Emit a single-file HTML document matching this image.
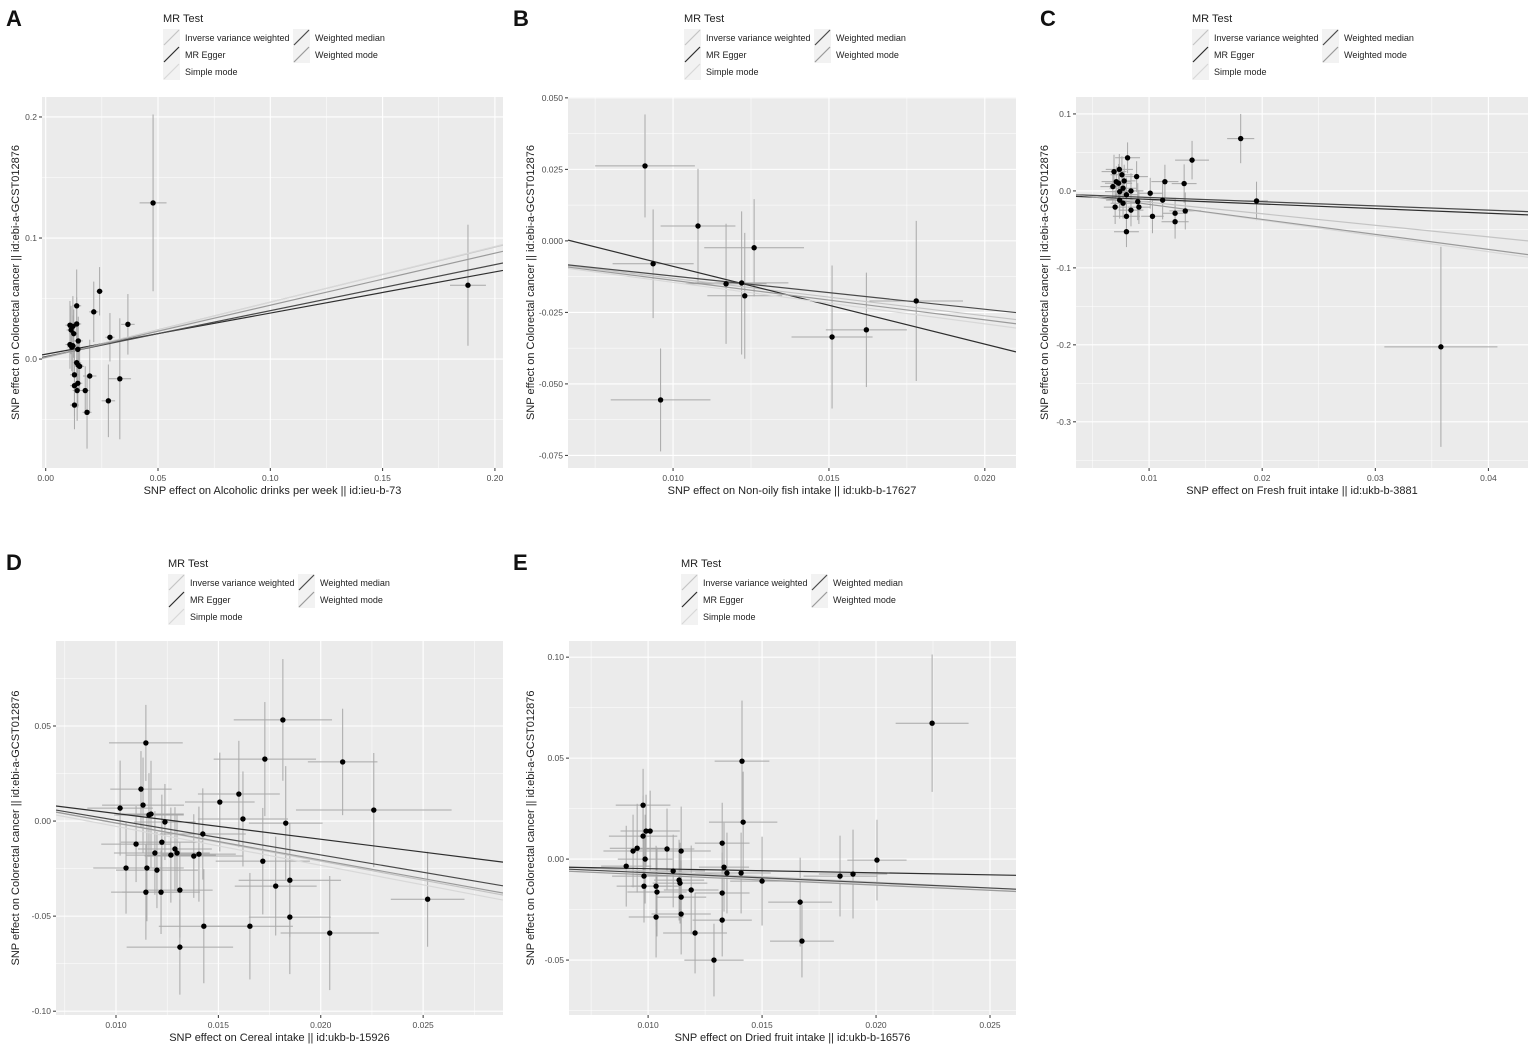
<!DOCTYPE html>
<html><head><meta charset="utf-8">
<style>
body{margin:0;background:#fff;font-family:"Liberation Sans",Arial,sans-serif;}
svg{display:block}
</style></head>
<body>
<svg id="fig" width="1535" height="1046" viewBox="0 0 1535 1046" xmlns="http://www.w3.org/2000/svg"></svg>
<script>
// ---------- shared ----------
const lineNames = ["Inverse variance weighted","MR Egger","Simple mode","Weighted median","Weighted mode"];
const lineColors = ["#c4c4c4","#2e2e2e","#d8d8d8","#4a4a4a","#9a9a9a"];
const yTitle = "SNP effect on Colorectal cancer || id:ebi-a-GCST012876";

// ---------- Panel A ----------
const aX  = [0.0138,0.024,0.0214,0.0366,0.0286,0.0108,0.0121,0.0113,0.0125,0.0138,0.0108,0.0121,0.0116,0.0143,0.0145,0.0138,0.0145,0.0151,0.0128,0.0143,0.0128,0.0196,0.033,0.0140,0.0176,0.0128,0.0184,0.0279,0.0478,0.188];
const aY  = [0.044,0.056,0.039,0.0287,0.018,0.028,0.027,0.024,0.021,0.029,0.012,0.011,0.010,0.008,0.015,-0.003,-0.005,-0.006,-0.013,-0.020,-0.022,-0.014,-0.0163,-0.026,-0.026,-0.038,-0.044,-0.0345,0.129,0.061];
const aXe = [0.002,0.0015,0.002,0.003,0.002,0.002,0.002,0.002,0.002,0.002,0.002,0.002,0.002,0.0015,0.002,0.002,0.002,0.002,0.002,0.002,0.002,0.003,0.005,0.002,0.002,0.002,0.002,0.003,0.006,0.008];
const aYe = [0.03,0.02,0.025,0.025,0.02,0.02,0.025,0.02,0.02,0.022,0.02,0.025,0.02,0.02,0.02,0.025,0.02,0.02,0.025,0.02,0.025,0.03,0.05,0.025,0.02,0.02,0.03,0.03,0.073,0.05];
const aInt   = [0.0015,0.004,0.001,0.002,0.0015];
const aSlope = [0.455,0.34,0.46,0.38,0.43];
const aXTicks = [0,0.05,0.1,0.15,0.2];
const aXLabels = ["0.00","0.05","0.10","0.15","0.20"];
const aYTicks = [0,0.1,0.2];
const aYLabels = ["0.0","0.1","0.2"];

// ---------- Panel B ----------
const bX  = [0.0091,0.00936,0.0108,0.0117,0.0122,0.0123,0.0126,0.0096,0.0151,0.0162,0.0178];
const bY  = [0.0262,-0.008,0.0052,-0.015,-0.0147,-0.0192,-0.0024,-0.0556,-0.0336,-0.0311,-0.021];
const bXe = [0.0016,0.0013,0.0012,0.0013,0.0015,0.0012,0.0016,0.0016,0.0013,0.0013,0.0015];
const bYe = [0.018,0.019,0.02,0.021,0.025,0.022,0.017,0.018,0.025,0.02,0.028];
const bInt   = [0,0.0183,0,-0.0007,0];
const bSlope = [-1.31,-2.72,-1.45,-1.16,-1.38];
const bXTicks = [0.01,0.015,0.02];
const bXLabels = ["0.010","0.015","0.020"];
const bYTicks = [-0.075,-0.05,-0.025,0,0.025,0.05];
const bYLabels = ["-0.075","-0.050","-0.025","0.000","0.025","0.050"];

// ---------- Panel C ----------
const cX  = [0.0181,0.0138,0.0081,0.0114,0.0131,0.0089,0.0069,0.00737,0.0076,0.0071,0.0068,0.0073,0.0078,0.0077,0.0084,0.0074,0.0080,0.0074,0.0077,0.0070,0.0080,0.0084,0.0090,0.0091,0.0101,0.0112,0.0123,0.0123,0.0132,0.0103,0.0080,0.0195,0.0358];
const cY  = [0.068,0.040,0.043,0.012,0.0095,0.0186,0.025,0.028,0.021,0.012,0.0056,0.010,0.013,0.0035,0.0,-0.001,-0.005,-0.012,-0.016,-0.021,-0.033,-0.025,-0.014,-0.021,-0.003,-0.012,-0.029,-0.040,-0.026,-0.033,-0.053,-0.013,-0.2026];
const cXe = [0.0012,0.0015,0.0011,0.0012,0.0011,0.0010,0.0011,0.0012,0.0010,0.0013,0.0011,0.0012,0.0010,0.0012,0.0011,0.0013,0.0010,0.0012,0.0011,0.0010,0.0012,0.0011,0.0012,0.0010,0.0011,0.0010,0.0011,0.0012,0.0014,0.0010,0.0011,0.001,0.005];
const cYe = [0.032,0.025,0.02,0.022,0.025,0.02,0.022,0.02,0.024,0.02,0.022,0.025,0.021,0.02,0.023,0.02,0.022,0.024,0.02,0.022,0.02,0.021,0.024,0.022,0.02,0.025,0.02,0.022,0.024,0.022,0.02,0.025,0.13];
const cInt   = [0.0003,-0.005,0.003,-0.003,0.002];
const cSlope = [-1.5,-0.6,-2.05,-0.55,-1.95];
const cXTicks = [0.01,0.02,0.03,0.04];
const cXLabels = ["0.01","0.02","0.03","0.04"];
const cYTicks = [-0.3,-0.2,-0.1,0,0.1];
const cYLabels = ["-0.3","-0.2","-0.1","0.0","0.1"];

// ---------- Panel D ----------
const dX  = [0.01146,0.0102,0.01122,0.01132,0.01161,0.01171,0.01239,0.01224,0.01288,0.01298,0.01268,0.0119,0.01151,0.01098,0.01049,0.01146,0.0122,0.012,0.01312,0.01424,0.01405,0.0138,0.01507,0.016,0.0162,0.01727,0.01815,0.01829,0.01717,0.0178,0.01849,0.01849,0.01654,0.01429,0.01312,0.02044,0.02107,0.02259,0.02522];
const dY  = [0.0411,0.0068,0.0168,0.0084,0.0032,0.0037,-0.0005,-0.0111,-0.0147,-0.0168,-0.0179,-0.0168,-0.0247,-0.0121,-0.0247,-0.0374,-0.0374,-0.0258,-0.0363,-0.0068,-0.0174,-0.0184,0.01,0.0142,0.0011,0.0326,0.0532,-0.0011,-0.0211,-0.0342,-0.0311,-0.0505,-0.0553,-0.0553,-0.0663,-0.0589,0.0311,0.0058,-0.0411];
const dXe = [0.0018,0.0016,0.0015,0.002,0.0017,0.0016,0.0015,0.002,0.0018,0.0016,0.0022,0.002,0.0018,0.0017,0.0016,0.0017,0.0019,0.002,0.0016,0.0021,0.0018,0.0024,0.0017,0.002,0.0022,0.0025,0.0024,0.0018,0.0023,0.002,0.0025,0.002,0.0021,0.0022,0.0026,0.0024,0.0017,0.0038,0.0018];
const dYe = [0.02,0.025,0.02,0.025,0.022,0.028,0.02,0.025,0.022,0.02,0.025,0.022,0.028,0.02,0.024,0.025,0.022,0.02,0.025,0.024,0.025,0.022,0.026,0.028,0.025,0.03,0.032,0.03,0.028,0.026,0.03,0.03,0.028,0.03,0.025,0.03,0.028,0.03,0.025];
const dInt   = [0.0189,0.0175,0.0177,0.0187,0.0185];
const dSlope = [-2.0,-1.353,-2.05,-1.826,-1.95];
const dXTicks = [0.01,0.015,0.02,0.025];
const dXLabels = ["0.010","0.015","0.020","0.025"];
const dYTicks = [-0.1,-0.05,0,0.05];
const dYLabels = ["-0.10","-0.05","0.00","0.05"];

// ---------- Panel E ----------
const eX  = [0.00978,0.00904,0.00934,0.00952,0.00978,0.00991,0.01009,0.00987,0.00982,0.00982,0.01035,0.01039,0.01083,0.0111,0.01136,0.01145,0.0114,0.01145,0.01145,0.01189,0.01206,0.01289,0.01325,0.01333,0.01346,0.01412,0.01417,0.01408,0.015,0.01325,0.01325,0.01667,0.01675,0.01842,0.01899,0.02004,0.02246,0.01035];
const eY  = [0.0267,-0.0035,0.004,0.0054,0.0114,0.0139,0.0139,0.0,-0.0084,-0.0134,-0.0134,-0.0163,0.005,-0.0059,-0.0104,0.004,-0.0119,-0.0188,-0.0272,-0.0153,-0.0366,-0.05,0.0079,-0.004,-0.0069,0.0485,0.0183,-0.0069,-0.0109,-0.0168,-0.0302,-0.0213,-0.0406,-0.0084,-0.0074,-0.0005,0.0673,-0.0287];
const eXe = [0.0012,0.0011,0.0013,0.0012,0.0015,0.0011,0.0013,0.0012,0.0014,0.0012,0.0011,0.0013,0.0012,0.0014,0.0011,0.0013,0.0012,0.0011,0.0013,0.0012,0.0014,0.0013,0.0012,0.0011,0.0014,0.0012,0.0015,0.0013,0.0014,0.0012,0.0013,0.0014,0.0014,0.0016,0.0015,0.0013,0.0016,0.0012];
const eYe = [0.018,0.02,0.018,0.022,0.02,0.018,0.02,0.022,0.02,0.018,0.02,0.022,0.02,0.018,0.02,0.022,0.02,0.018,0.02,0.022,0.02,0.018,0.02,0.022,0.02,0.03,0.025,0.02,0.022,0.02,0.018,0.022,0.018,0.02,0.022,0.02,0.034,0.02];
const eInt   = [-0.0003,-0.0027,-0.0015,-0.0017,-0.0027];
const eSlope = [-0.56,-0.204,-0.55,-0.505,-0.51];
const eXTicks = [0.01,0.015,0.02,0.025];
const eXLabels = ["0.010","0.015","0.020","0.025"];
const eYTicks = [-0.05,0,0.05,0.1];
const eYLabels = ["-0.05","0.00","0.05","0.10"];

const NS = "http://www.w3.org/2000/svg";
const svg = document.getElementById("fig");
function mk(tag, attrs, parent){
  const el = document.createElementNS(NS, tag);
  for (const k in attrs) el.setAttribute(k, attrs[k]);
  (parent||svg).appendChild(el);
  return el;
}

function panel(p){
  const g = mk("g", {});
  
  
  const L=p.rect[0], R=p.rect[1], T=p.rect[2], B=p.rect[3];
  const sx = v => L + (v - p.xd[0]) / (p.xd[1] - p.xd[0]) * (R - L);
  const sy = v => B - (v - p.yd[0]) / (p.yd[1] - p.yd[0]) * (B - T);

  // panel letter
  const lt = mk("text", {x:p.letter[0], y:p.letter[1], "font-size":22, "font-weight":"bold", fill:"#111"}, g);
  lt.textContent = p.id;
  
  

  // legend
  const lg = mk("g", {}, g);
  
  
  const lx = p.legend[0], ly = p.legend[1];
  const tt = mk("text", {x:lx, y:ly, "font-size":11, fill:"#222"}, lg);
  tt.textContent = "MR Test";
  const order = [[0,0,0],[1,0,1],[2,0,2],[3,1,0],[4,1,1]];
  order.forEach(o=>{
    const kx = lx + o[1]*130, ky = ly + 7 + o[2]*17;
    const e = mk("g", {}, lg);
    
    
    mk("rect", {x:kx, y:ky, width:17, height:17, fill:"#f2f2f2"}, e);
    mk("line", {x1:kx+1, y1:ky+16, x2:kx+16, y2:ky+1, stroke:lineColors[o[0]], "stroke-width":1.2}, e);
    const t = mk("text", {x:kx+22, y:ky+12, "font-size":9, fill:"#222"}, e);
    t.textContent = lineNames[o[0]];
  });

  // plot background
  const bg = mk("rect", {x:L, y:T, width:R-L, height:B-T, fill:"#ebebeb"}, g);
  
  

  // minor grid
  const minors = (ticks, d) => {
    const st = ticks[1]-ticks[0], out=[];
    for (let v = ticks[0]-st/2; v <= d[1]+1e-12; v += st) if (v >= d[0]) out.push(v);
    return out;
  };
  minors(p.xt, p.xd).forEach(v=>mk("line",{x1:sx(v),x2:sx(v),y1:T,y2:B,stroke:"#fff","stroke-width":0.5},g));
  minors(p.yt, p.yd).forEach(v=>mk("line",{y1:sy(v),y2:sy(v),x1:L,x2:R,stroke:"#fff","stroke-width":0.5},g));
  // major grid + ticks
  p.xt.forEach((v,i)=>{
    mk("line",{x1:sx(v),x2:sx(v),y1:T,y2:B,stroke:"#fff","stroke-width":1.1},g);
    mk("line",{x1:sx(v),x2:sx(v),y1:B,y2:B+3,stroke:"#333","stroke-width":1},g);
    const t = mk("text",{x:sx(v),y:B+13,"font-size":8.5,fill:"#4d4d4d","text-anchor":"middle"},g);
    t.textContent = p.xl[i];
    
    
  });
  p.yt.forEach((v,i)=>{
    mk("line",{y1:sy(v),y2:sy(v),x1:L,x2:R,stroke:"#fff","stroke-width":1.1},g);
    mk("line",{y1:sy(v),y2:sy(v),x1:L-3,x2:L,stroke:"#333","stroke-width":1},g);
    const t = mk("text",{x:L-5,y:sy(v)+3,"font-size":8.5,fill:"#4d4d4d","text-anchor":"end"},g);
    t.textContent = p.yl[i];
    
    
  });

  // clip
  const cp = mk("clipPath", {id:"clip"+p.id}, g);
  mk("rect", {x:L, y:T, width:R-L, height:B-T}, cp);
  const data = mk("g", {"clip-path":"url(#clip"+p.id+")"}, g);

  // error bars
  p.X.forEach((x,i)=>{
    const y = p.Y[i];
    const eb = mk("g", {}, data);
    
    
    mk("line",{x1:sx(x-p.Xe[i]),x2:sx(x+p.Xe[i]),y1:sy(y),y2:sy(y),stroke:"#a8a8a8","stroke-width":1},eb);
    mk("line",{x1:sx(x),x2:sx(x),y1:sy(y-p.Ye[i]),y2:sy(y+p.Ye[i]),stroke:"#a8a8a8","stroke-width":1},eb);
  });
  // regression lines
  p.ints.forEach((a,k)=>{
    const b = p.slopes[k];
    const ln = mk("line",{x1:sx(p.xd[0]),y1:sy(a+b*p.xd[0]),x2:sx(p.xd[1]),y2:sy(a+b*p.xd[1]),stroke:lineColors[k],"stroke-width":1.2},data);
    
    
  });
  // points
  p.X.forEach((x,i)=>{
    const c = mk("circle",{cx:sx(x),cy:sy(p.Y[i]),r:2.7,fill:"#000"},data);
    
    
  });

  // axis titles
  const xt = mk("text",{x:(L+R)/2,y:B+26,"font-size":11,fill:"#222","text-anchor":"middle"},g);
  xt.textContent = p.xtitle;
  
  
  const yx = p.ytx, yy = (T+B)/2;
  const yt = mk("text",{x:yx,y:yy,"font-size":11,fill:"#222","text-anchor":"middle",transform:"rotate(-90 "+yx+" "+yy+")"},g);
  yt.textContent = yTitle;
  
  
}

panel({id:"A", letter:[6,26], legend:[163,22], rect:[42,503,97,468], xd:[-0.00165,0.2036], yd:[-0.090,0.2165],
  xt:aXTicks, xl:aXLabels, yt:aYTicks, yl:aYLabels, X:aX, Y:aY, Xe:aXe, Ye:aYe, ints:aInt, slopes:aSlope,
  xtitle:"SNP effect on Alcoholic drinks per week || id:ieu-b-73", ytx:19});
panel({id:"B", letter:[513,26], legend:[684,22], rect:[568,1016,97,468], xd:[0.00663,0.0210], yd:[-0.0794,0.0503],
  xt:bXTicks, xl:bXLabels, yt:bYTicks, yl:bYLabels, X:bX, Y:bY, Xe:bXe, Ye:bYe, ints:bInt, slopes:bSlope,
  xtitle:"SNP effect on Non-oily fish intake || id:ukb-b-17627", ytx:534});
panel({id:"C", letter:[1040,26], legend:[1192,22], rect:[1076,1528,97,468], xd:[0.00354,0.0435], yd:[-0.360,0.122],
  xt:cXTicks, xl:cXLabels, yt:cYTicks, yl:cYLabels, X:cX, Y:cY, Xe:cXe, Ye:cYe, ints:cInt, slopes:cSlope,
  xtitle:"SNP effect on Fresh fruit intake || id:ukb-b-3881", ytx:1048});
panel({id:"D", letter:[6,570], legend:[168,567], rect:[56,503,641,1015], xd:[0.00707,0.0289], yd:[-0.102,0.0947],
  xt:dXTicks, xl:dXLabels, yt:dYTicks, yl:dYLabels, X:dX, Y:dY, Xe:dXe, Ye:dYe, ints:dInt, slopes:dSlope,
  xtitle:"SNP effect on Cereal intake || id:ukb-b-15926", ytx:19});
panel({id:"E", letter:[513,570], legend:[681,567], rect:[569,1016,641,1015], xd:[0.00653,0.02614], yd:[-0.0772,0.108],
  xt:eXTicks, xl:eXLabels, yt:eYTicks, yl:eYLabels, X:eX, Y:eY, Xe:eXe, Ye:eYe, ints:eInt, slopes:eSlope,
  xtitle:"SNP effect on Dried fruit intake || id:ukb-b-16576", ytx:534});
</script>
</body></html>
